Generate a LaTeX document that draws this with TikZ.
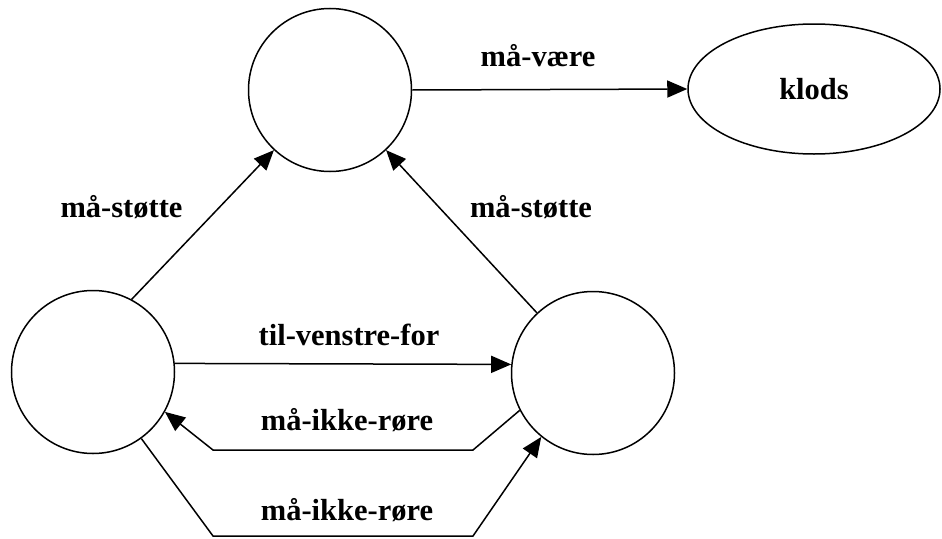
\documentclass[tikz,border=0pt]{standalone}
\usepackage{fontspec}
\setmainfont{Liberation Serif}
\usetikzlibrary{positioning, arrows.meta, shapes.geometric}

\begin{document}
\begin{tikzpicture}[x=1pt, y=-1pt,
  obj node/.style={circle,draw,line width=1.5pt,minimum size=163pt,inner sep=0pt},
  klods node/.style={ellipse,draw,line width=1.5pt,minimum width=252pt,minimum height=130pt,
    font=\fontsize{30.5}{34}\selectfont\bfseries},
  rel label/.style={font=\fontsize{30.5}{34}\selectfont\bfseries, anchor=base, inner sep=0pt},
  rel/.style={line width=1.5pt, -{Triangle[length=20pt,width=17pt]}}]

\useasboundingbox (0,0) rectangle (942,538);

\node[obj node] (T) at (330,90) {};
\node[obj node] (L) at (93,372) {};
\node[obj node] (R) at (593,373) {};
\node[klods node] (K) at (814,89) {klods};

% relations
\path[rel]
(T.0)    edge (K.west)
(L.62.8) edge (T.227.8)
(R.133)  edge (T.313.6)
(L.6)    edge (R.174)
;

\coordinate (u1) at (473,450);
\coordinate (u2) at (213,450);
\coordinate (d1) at (213,536);
\coordinate (d2) at (473,536);
\draw[rel] (R.207.5) -- (u1) -- (u2) -- (L.331);
\draw[rel] (L.306) -- (d1) -- (d2) -- (R.231.5);

\node[rel label] (l1) at (538,66)  {må-være};
\node[rel label] (l2) at (121.5,217) {må-støtte};
\node[rel label] (l3) at (531,217) {må-støtte};
\node[rel label] (l4) at (349,345) {til-venstre-for};
\node[rel label] (l5) at (347,430) {må-ikke-røre};
\node[rel label] (l6) at (347,520) {må-ikke-røre};
\end{tikzpicture}
\end{document}
